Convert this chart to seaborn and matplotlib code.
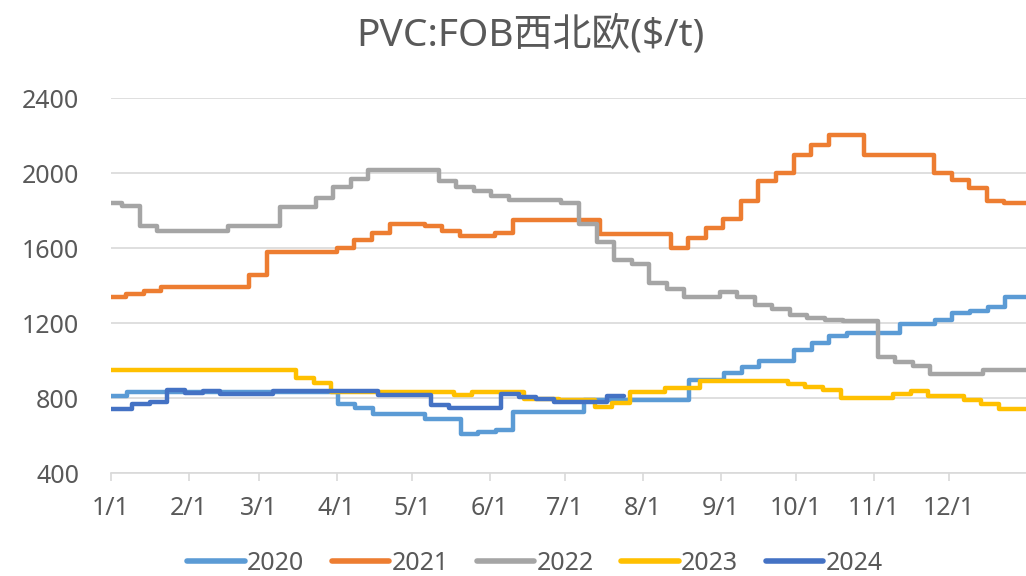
import numpy as np
import pandas as pd
import matplotlib
matplotlib.use("Agg")
import matplotlib.pyplot as plt
import seaborn as sns

# ---------------- data ----------------
years = ["2020", "2021", "2022", "2023", "2024"]
colors = ["#5B9BD5", "#ED7D31", "#A5A5A5", "#FFC000", "#4472C4"]
# day-of-year of the first weekly quote for each year (weekly data)
first_obs_day = [-0.7, -1.0, -2.5, -3.3, -5.5]

p2020 = [810, 835, 835, 835, 835, 835, 835, 835, 835, 835, 835, 835, 835,
         770, 750, 715, 715, 715, 690, 690, 610, 620, 630, 725, 725, 725, 725,
         790, 790, 790, 790, 790, 790, 900, 900, 935, 965, 1000, 1000, 1055,
         1095, 1130, 1150, 1150, 1150, 1195, 1195, 1220, 1255, 1265, 1285,
         1340, 1340]
p2021 = [1340, 1355, 1370, 1395, 1395, 1395, 1395, 1395, 1460, 1580, 1580,
         1580, 1580, 1600, 1645, 1680, 1730, 1730, 1720, 1690, 1665, 1665,
         1680, 1750, 1750, 1750, 1750, 1750, 1675, 1675, 1675, 1675, 1600,
         1655, 1710, 1755, 1850, 1960, 2000, 2095, 2150, 2205, 2205, 2095,
         2095, 2095, 2095, 2000, 1965, 1920, 1850, 1840, 1840]
p2022 = [1840, 1825, 1720, 1690, 1690, 1690, 1690, 1720, 1720, 1720, 1820,
         1820, 1870, 1925, 1970, 2020, 2020, 2020, 2020, 1960, 1925, 1905,
         1880, 1860, 1860, 1860, 1840, 1730, 1635, 1535, 1515, 1415, 1385,
         1340, 1340, 1365, 1340, 1295, 1275, 1245, 1230, 1220, 1210, 1210,
         1020, 995, 970, 930, 930, 930, 950, 950, 950]
p2023 = [950, 950, 950, 950, 950, 950, 950, 950, 950, 950, 950, 910, 880,
         835, 835, 835, 835, 835, 835, 835, 820, 835, 835, 835, 795, 795,
         790, 790, 755, 775, 835, 835, 857, 857, 890, 890, 890, 890, 890,
         875, 862, 845, 800, 800, 800, 825, 840, 810, 810, 790, 770, 745, 745]
p2024 = [745, 745, 770, 780, 845, 830, 840, 825, 825, 825, 840, 840, 840,
         840, 840, 840, 820, 820, 820, 765, 750, 750, 750, 825, 805, 795,
         780, 780, 780, 810]
series = [p2020, p2021, p2022, p2023, p2024]

month_days = [0, 31, 59, 90, 120, 151, 181, 212, 243, 273, 304, 334]
month_labels = ["1/1", "2/1", "3/1", "4/1", "5/1", "6/1", "7/1", "8/1",
                "9/1", "10/1", "11/1", "12/1"]
y_ticks = [400, 800, 1200, 1600, 2000, 2400]
title = "PVC:FOB西北欧($/t)"

# ---------------- build long table ----------------
rows = []
for yr, start, vals in zip(years, first_obs_day, series):
    n = len(vals)
    days = start + 7 * np.arange(n + 1)
    vv = list(vals) + [vals[-1]]  # close the last weekly step
    for d, v in zip(days, vv):
        rows.append((yr, d, v))
df = pd.DataFrame(rows, columns=["year", "day", "price"])

# ---------------- style ----------------
sns.set_theme(style="white")
plt.rcParams["font.family"] = ["Noto Sans", "Noto Sans CJK SC", "DejaVu Sans"]
text_color = "#595959"
grid_color = "#D9D9D9"

fig = plt.figure(figsize=(10.26, 5.76), dpi=100)
fig.patch.set_facecolor("white")
ax = fig.add_axes([111 / 1026, 1 - 473.3 / 576, 916 / 1026, 375 / 576])

sns.lineplot(data=df, x="day", y="price", hue="year", hue_order=years,
             palette=colors, drawstyle="steps-post", linewidth=3.2,
             estimator=None, sort=True, ax=ax, legend=True,
             solid_capstyle="round", solid_joinstyle="round")

ax.set_xlim(0, 365)
ax.set_ylim(400, 2400)
ax.set_yticks(y_ticks)
ax.set_yticklabels([str(t) for t in y_ticks])
ax.set_xticks(month_days)
ax.set_xticklabels(month_labels)
ax.set_xlabel("")
ax.set_ylabel("")

ax.grid(axis="y", color=grid_color, linewidth=1.2, zorder=0)
ax.grid(axis="x", visible=False)
ax.set_axisbelow(True)
for s in ["top", "right", "left"]:
    ax.spines[s].set_visible(False)
ax.spines["bottom"].set_color(grid_color)
ax.spines["bottom"].set_linewidth(1.2)

ax.tick_params(axis="x", direction="out", length=6, width=1.2,
               color=grid_color, labelcolor=text_color, labelsize=18, pad=10)
ax.tick_params(axis="y", length=0, labelcolor=text_color, labelsize=18,
               pad=23)
ax.tick_params(axis="x", bottom=True)

handles, labels = ax.get_legend_handles_labels()
ax.get_legend().remove()
for h in handles:
    h.set_linewidth(4)
    h.set_solid_capstyle("round")
leg = fig.legend(handles, labels, loc="center",
                 bbox_to_anchor=(535 / 1026, 1 - 563 / 576), ncol=5,
                 frameon=False, fontsize=18, handlelength=2.3,
                 handletextpad=0.1, columnspacing=1.1,
                 labelcolor=text_color)

fig.text(530 / 1026, 1 - 35 / 576, title, ha="center", va="center",
         fontsize=28, color=text_color)

fig.savefig("out.png", dpi=100, facecolor="white")
